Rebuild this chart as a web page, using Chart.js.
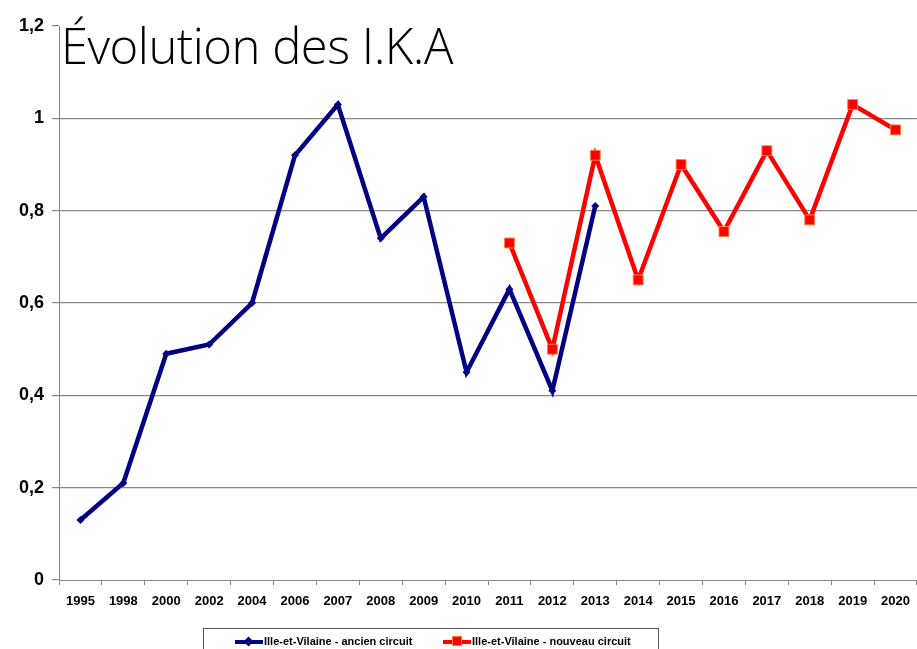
<!DOCTYPE html>
<html>
<head>
<meta charset="UTF-8">
<title>Évolution des I.K.A</title>
<script src="https://cdn.jsdelivr.net/npm/chart.js"></script>
<style>
    body { margin: 0; background: #fff; overflow: hidden; }
    .wrap { position: relative; width: 917px; height: 649px; }
    .title {
        position: absolute; left: 61px; top: 21px;
        font-family: "Open Sans", sans-serif; font-weight: 300;
        font-size: 49px; color: #000; line-height: 1; letter-spacing: -0.5px;
    }
    .legend {
        position: absolute; left: 203px; top: 628px; width: 456px; height: 30px;
        border: 1px solid #555; box-sizing: border-box;
        font-family: "Liberation Sans Narrow", "Arial Narrow", sans-serif;
        font-size: 11px; font-weight: bold; color: #000;
    }
    .item { position: absolute; top: 6px; white-space: nowrap; }
    .mk { display: inline-block; vertical-align: middle; position: relative; width: 28px; height: 4px; margin-right: 1px; }
</style>
</head>
<body>
<div class="wrap">
    <canvas id="chart" width="917" height="649"></canvas>
    <div class="title">Évolution des I.K.A</div>
    <div class="legend">
        <div class="item" style="left:31px"><span class="mk" style="background:#000080"><span style="position:absolute;left:10px;top:-2px;width:7px;height:7px;background:#000080;transform:rotate(45deg)"></span></span>Ille-et-Vilaine - ancien circuit</div>
        <div class="item" style="left:239px"><span class="mk" style="background:#ff0000"><span style="position:absolute;left:9px;top:-4px;width:10px;height:10px;background:#ff0000;border:1px solid #ff7a3a;box-sizing:border-box"></span></span>Ille-et-Vilaine - nouveau circuit</div>
    </div>
</div>
<script>
    const years = ['1995', '1998', '2000', '2002', '2004', '2006', '2007', '2008', '2009', '2010',
        '2011', '2012', '2013', '2014', '2015', '2016', '2017', '2018', '2019', '2020'];
    const ancienCircuit = [0.13, 0.21, 0.49, 0.51, 0.60, 0.92, 1.03, 0.74, 0.83, 0.45,
        0.63, 0.41, 0.81, null, null, null, null, null, null, null];
    const nouveauCircuit = [null, null, null, null, null, null, null, null, null, null,
        0.73, 0.50, 0.92, 0.65, 0.90, 0.755, 0.93, 0.78, 1.03, 0.975];

    const chart = new Chart(document.getElementById('chart'), {
        type: 'line',
        data: {
            labels: years,
            datasets: [{
                label: 'Ille-et-Vilaine - ancien circuit',
                data: ancienCircuit,
                borderColor: '#000080',
                backgroundColor: '#000080',
                borderWidth: 4.5,
                pointStyle: 'rectRot',
                pointRadius: 4,
                pointBorderWidth: 0,
                tension: 0,
                spanGaps: false
            }, {
                label: 'Ille-et-Vilaine - nouveau circuit',
                data: nouveauCircuit,
                borderColor: '#ff0000',
                backgroundColor: '#ff0000',
                pointBorderColor: '#ff8040',
                borderWidth: 4.5,
                pointStyle: 'rect',
                pointRadius: 7,
                pointBorderWidth: 1,
                tension: 0
            }]
        },
        options: {
            responsive: false,
            animation: false,
            layout: { autoPadding: false, padding: { top: 26, right: -2, left: 0, bottom: 0 } },
            plugins: { legend: { display: false }, tooltip: { enabled: false } },
            scales: {
                x: {
                    offset: true,
                    border: { color: '#888', width: 1 },
                    grid: { offset: true, drawOnChartArea: false, drawTicks: true, tickLength: 5, tickColor: '#888' },
                    ticks: {
                        color: '#000', padding: 9, maxRotation: 0, autoSkip: false,
                        font: { family: 'Arial, "Liberation Sans"', size: 13, weight: 'bold' }
                    },
                    afterFit: (s) => { s.height = 69; s.paddingRight = 0; s.paddingLeft = 0; }
                },
                y: {
                    min: 0, max: 1.2,
                    border: { color: '#888', width: 1 },
                    grid: {
                        color: (c) => (c.tick && (c.tick.value >= 1.19 || c.tick.value === 0)) ? 'rgba(0,0,0,0)' : '#888',
                        tickColor: '#888', tickLength: 7, lineWidth: 1.2
                    },
                    ticks: {
                        stepSize: 0.2, color: '#000', padding: 8,
                        font: { family: 'Arial, "Liberation Sans"', size: 18, weight: 'bold' },
                        callback: (v) => (Math.round(v * 10) / 10).toString().replace('.', ',')
                    },
                    afterFit: (s) => { s.width = 59; }
                }
            }
        }
    });
</script>
</body>
</html>
